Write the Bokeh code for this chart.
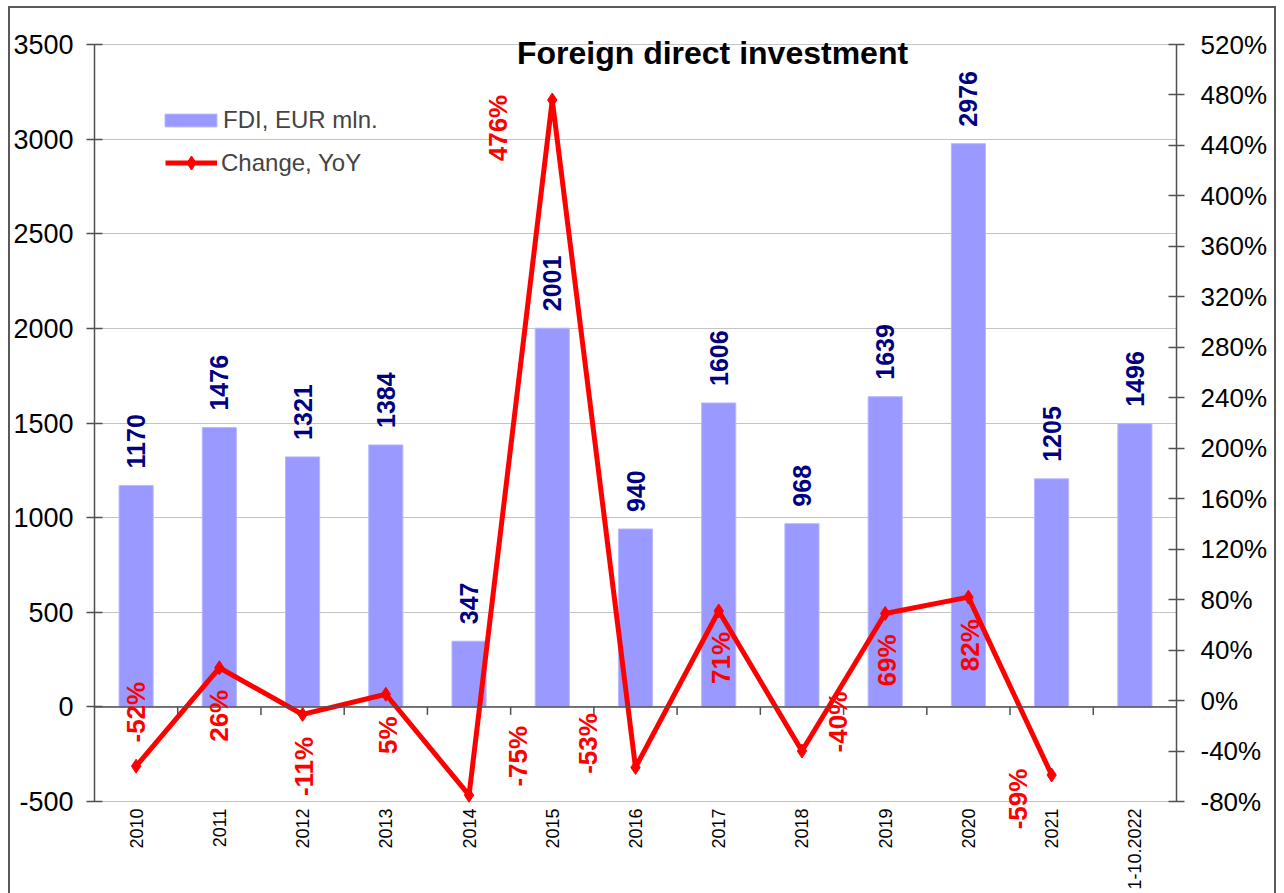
from math import pi
from bokeh.plotting import figure
from bokeh.models import (Range1d, LinearAxis, FixedTicker, PrintfTickFormatter, Span,
                          Legend, LegendItem, ColumnDataSource, LabelSet)
from bokeh.core.properties import value
from bokeh.embed import file_html
from bokeh.resources import INLINE

# ---------------- data ----------------
categories = ["2010", "2011", "2012", "2013", "2014", "2015", "2016",
              "2017", "2018", "2019", "2020", "2021", "1-10.2022"]
fdi = [1170, 1476, 1321, 1384, 347, 2001, 940, 1606, 968, 1639, 2976, 1205, 1496]
yoy = [-52, 26, -11, 5, -75, 476, -53, 71, -40, 69, 82, -59]
left_ticks = [-500, 0, 500, 1000, 1500, 2000, 2500, 3000, 3500]
right_ticks = [-80, -40, 0, 40, 80, 120, 160, 200, 240, 280, 320, 360, 400, 440, 480, 520]
title_text = "Foreign direct investment"
bar_name = "FDI, EUR mln."
line_name = "Change, YoY"

# label placement (screen px offsets of the % labels from their points; layout only)
pct_dx = [0, 0, 1, 2, 49, -54, -47, 2, 36, 2, 2, -34]
pct_dy = [-54, 48, 52, 41, -39, 28, -24, 47, -29, 47, 48, 24]   # + = down

FONT = "Liberation Sans"
n = len(categories)
xs = [i + 0.5 for i in range(n)]

# layout: axes span 757 px; drawing area extends beyond so labels/title are not clipped
AXIS_PX = 757
EXT_BOT = 38
EXT_TOP = 12
lo, hi = left_ticks[0], left_ticks[-1]
rlo, rhi = right_ticks[0], right_ticks[-1]
kl = (hi - lo) / AXIS_PX
kr = (rhi - rlo) / AXIS_PX

p = figure(width=1264, height=885,
           x_range=Range1d(0, n), y_range=Range1d(lo - kl * EXT_BOT, hi + kl * EXT_TOP),
           output_backend="svg", toolbar_location=None,
           min_border_left=83, min_border_right=98, min_border_top=36 - EXT_TOP,
           min_border_bottom=54,
           margin=(8, 0, 0, 10),
           styles={"outline": "2px solid #5a5a5a"})
p.outline_line_color = None
p.background_fill_color = "white"
p.border_fill_color = "white"

# grid
p.xgrid.visible = False
p.ygrid.ticker = FixedTicker(ticks=left_ticks)
p.ygrid.grid_line_color = "#c4c4c4"
p.ygrid.grid_line_width = 1.2

# left axis
ya = p.yaxis[0]
ya.ticker = FixedTicker(ticks=left_ticks)
ya.major_label_overrides = {t: str(t) for t in left_ticks}
ya.bounds = (lo, hi)
ya.major_label_text_font = FONT
ya.major_label_text_font_size = "27px"
ya.major_label_text_color = "black"
ya.axis_line_color = "#505050"
ya.axis_line_width = 1.5
ya.major_tick_line_color = "#505050"
ya.major_tick_line_width = 1.5
ya.major_tick_in = 8
ya.major_tick_out = 8
ya.minor_tick_line_color = None
ya.major_label_standoff = 13

# bottom axis (category labels)
xa = p.xaxis[0]
xa.ticker = FixedTicker(ticks=xs)
xa.major_label_overrides = {x: c for x, c in zip(xs, categories)}
xa.major_label_orientation = pi / 2
xa.major_label_text_font = FONT
xa.major_label_text_font_size = "18px"
xa.major_label_text_color = "black"
xa.axis_line_color = None
xa.major_tick_line_color = None
xa.minor_tick_line_color = None
xa.major_tick_out = 0
xa.major_tick_in = 0
xa.major_label_standoff = 7 - EXT_BOT

# right axis (percent)
p.extra_y_ranges = {"pct": Range1d(rlo - kr * EXT_BOT, rhi + kr * EXT_TOP)}
ra = LinearAxis(y_range_name="pct", ticker=FixedTicker(ticks=right_ticks),
                formatter=PrintfTickFormatter(format="%d%%"))
ra.major_label_overrides = {t: f"{t}%" for t in right_ticks}
ra.bounds = (rlo, rhi)
ra.major_label_text_font = FONT
ra.major_label_text_font_size = "26px"
ra.major_label_text_color = "black"
ra.axis_line_color = "#505050"
ra.axis_line_width = 1.5
ra.major_tick_line_color = "#505050"
ra.major_tick_line_width = 1.5
ra.major_tick_in = 8
ra.major_tick_out = 8
ra.minor_tick_line_color = None
ra.major_label_standoff = 16
p.add_layout(ra, "right")

# bars
bars = p.vbar(x=xs, top=fdi, bottom=0, width=0.41, fill_color="#9999FF",
              line_color="#b8b8ff", line_width=1)

# zero line and category separators
p.add_layout(Span(location=0, dimension="width", line_color="#505050", line_width=1.5))
tick_len = kl * 8
p.segment(x0=list(range(1, n)), x1=list(range(1, n)), y0=[0] * (n - 1),
          y1=[-tick_len] * (n - 1), line_color="#505050", line_width=1.5)

# YoY line
line = p.line(x=xs[:len(yoy)], y=yoy, y_range_name="pct", line_color="#FF0000", line_width=5)
dots = p.scatter(x=xs[:len(yoy)], y=yoy, y_range_name="pct", marker="diamond", size=14,
                 fill_color="#FF0000", line_color="#FF0000")

# bar value labels
p.text(x=xs, y=fdi, text=[str(v) for v in fdi], angle=pi / 2, text_align="left",
       text_baseline="middle", y_offset=-17, text_font=value(FONT), text_font_style="bold",
       text_font_size="25px", text_color="#000080")

# percent labels
src = ColumnDataSource(dict(x=xs[:len(yoy)], y=yoy, t=[f"{v}%" for v in yoy],
                            dx=pct_dx, dy=[-d for d in pct_dy]))
p.add_layout(LabelSet(x="x", y="y", text="t", source=src, y_range_name="pct", angle=pi / 2,
                      x_offset="dx", y_offset="dy", text_align="center", text_baseline="middle",
                      text_font=value(FONT), text_font_style="bold", text_font_size="26px",
                      text_color="#FF0000"))

# title inside plot area
p.text(x=[n / 2], y=[hi], text=[title_text], x_offset=77, y_offset=8,
       text_align="center", text_baseline="alphabetic", text_font=value(FONT),
       text_font_style="bold", text_font_size="32px", text_color="black")

common = dict(orientation="vertical", padding=0, margin=0, spacing=0,
              label_text_font=FONT, label_text_font_size="24px",
              border_line_color=None, background_fill_alpha=0)
legend_bar = Legend(items=[LegendItem(label=bar_name, renderers=[bars])],
                    location=(64, 705), glyph_width=65, glyph_height=16,
                    label_standoff=0, **common)
legend_line = Legend(items=[LegendItem(label=line_name, renderers=[line, dots])],
                     location=(71, 659), glyph_width=52, glyph_height=35,
                     label_standoff=4, **common)
p.add_layout(legend_bar)
p.add_layout(legend_line)

open("out.html", "w").write(file_html(p, INLINE))
